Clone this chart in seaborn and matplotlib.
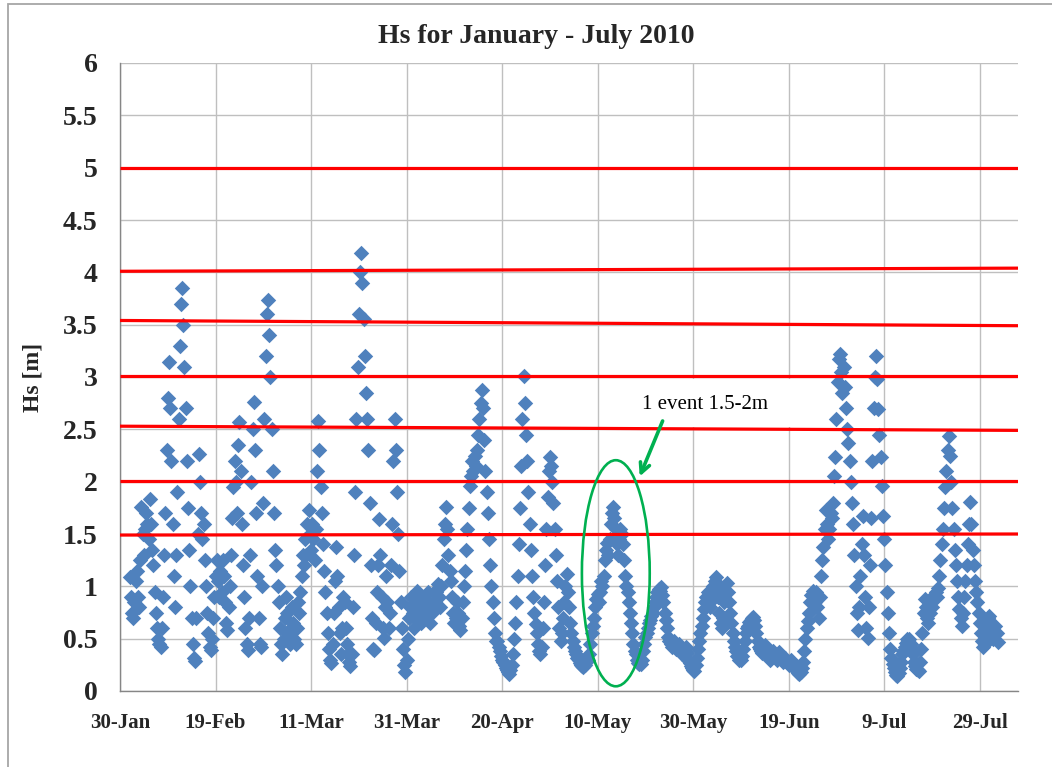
import numpy as np
import pandas as pd
import matplotlib
matplotlib.use("Agg")
import matplotlib.pyplot as plt
from matplotlib.patches import Ellipse, Rectangle
import seaborn as sns

# Significant wave height, 6-hourly readings, 1 Feb - 1 Aug 2010 (metres)
hs_feb = [
    1.09, 0.90, 0.75, 0.70,  0.85, 1.05, 1.15, 0.90,  0.80, 1.25, 1.76, 1.50,
    1.30, 1.55, 1.70, 1.60,  1.45, 1.83, 1.60, 1.35,  1.20, 0.95, 0.75, 0.60,
    0.50, 0.45, 0.42, 0.60,  0.90, 1.30, 1.70, 2.30,  2.80, 3.14, 2.70, 2.20,
    1.60, 1.10, 0.80, 1.30,  1.90, 2.60, 3.30, 3.70,  3.85, 3.50, 3.10, 2.70,
    2.20, 1.75, 1.35, 1.00,  0.70, 0.45, 0.32, 0.29,  0.70, 1.50, 2.26, 2.00,
    1.70, 1.45, 1.60, 1.25,  1.00, 0.75, 0.55, 0.42,  0.39, 0.50, 0.70, 0.90,
    1.10, 1.25, 1.05, 0.90,  1.15, 0.95, 1.25, 1.10,  0.85, 0.65, 0.58, 0.80,
    1.00, 1.30, 1.65, 1.95,  2.20, 2.00, 1.70, 2.35,  2.57, 2.10, 1.60, 1.20,
    0.90, 0.60, 0.45, 0.39,  0.70, 1.30, 2.00, 2.50,  2.76, 2.30, 1.70, 1.10,
    0.70, 0.45, 0.42, 1.00,
]
hs_mar = [
    1.80, 2.60, 3.20, 3.60,  3.74, 3.40, 3.00, 2.50,  2.10, 1.70, 1.35, 1.20,
    1.00, 0.85, 0.60, 0.45,  0.35, 0.50, 0.70, 0.90,  0.75, 0.55, 0.45, 0.60,
    0.80, 0.65, 0.50, 0.45,  0.60, 0.85, 0.75, 0.95,  1.10, 1.30, 1.20, 1.45,
    1.30, 1.60, 1.73, 1.50,  1.35, 1.60, 1.45, 1.25,  1.55, 2.10, 2.58, 2.30,
    1.95, 1.70, 1.40, 1.15,  0.95, 0.75, 0.55, 0.40,  0.30, 0.27, 0.45, 0.75,
    1.05, 1.38, 1.10, 0.80,  0.55, 0.35, 0.60, 0.90,  0.85, 0.60, 0.45, 0.35,
    0.28, 0.24, 0.35, 0.80,  1.30, 1.90, 2.60, 3.10,  3.60, 4.00, 4.18, 3.90,
    3.55, 3.20, 2.85, 2.60,  2.30, 1.80, 1.20, 0.70,  0.40, 0.39, 0.65, 0.95,
    1.20, 1.64, 1.30, 0.90,  0.60, 0.51, 0.80, 1.10,  0.85, 0.60, 0.75, 1.20,
    1.60, 2.20, 2.60, 2.30,  1.90, 1.50, 1.15, 0.85,  0.60, 0.40, 0.25, 0.18,
    0.30, 0.50, 0.70, 0.80,
]
hs_apr = [
    0.90, 0.75, 0.60, 0.70,  0.85, 0.96, 0.80, 0.70,  0.65, 0.80, 0.90, 0.75,
    0.70, 0.85, 0.95, 0.80,  0.65, 0.75, 0.85, 0.95,  0.85, 0.95, 1.02, 0.90,
    0.80, 1.00, 1.20, 1.45,  1.60, 1.76, 1.55, 1.30,  1.15, 1.05, 0.90, 0.75,
    0.65, 0.70, 0.85, 0.75,  0.62, 0.58, 0.70, 0.85,  1.00, 1.15, 1.35, 1.55,
    1.75, 1.96, 2.05, 2.20,  2.10, 2.25, 2.15, 2.30,  2.45, 2.60, 2.75, 2.88,
    2.70, 2.40, 2.10, 1.90,  1.70, 1.45, 1.20, 1.00,  0.85, 0.70, 0.55, 0.48,
    0.48, 0.42, 0.38, 0.33,  0.30, 0.28, 0.25, 0.22,  0.20, 0.18, 0.16, 0.20,
    0.25, 0.35, 0.50, 0.65,  0.85, 1.10, 1.40, 1.75,  2.15, 2.60, 3.01, 2.75,
    2.45, 2.20, 1.90, 1.60,  1.35, 1.10, 0.90, 0.75,  0.64, 0.55, 0.45, 0.38,
    0.35, 0.42, 0.60, 0.85,  1.20, 1.55, 1.85, 2.10,  2.24, 2.15, 2.00, 1.80,
]
hs_may = [
    1.55, 1.30, 1.05, 0.80,  0.60, 0.48, 0.55, 0.70,  0.85, 1.00, 1.12, 0.95,
    0.80, 0.65, 0.55, 0.48,  0.42, 0.38, 0.35, 0.32,  0.30, 0.27, 0.25, 0.24,
    0.23, 0.25, 0.28, 0.32,  0.30, 0.35, 0.45, 0.55,  0.62, 0.70, 0.80, 0.88,
    0.93, 0.85, 0.95, 1.05,  1.00, 1.10, 1.25, 1.35,  1.41, 1.30, 1.45, 1.60,
    1.70, 1.76, 1.65, 1.55,  1.40, 1.30, 1.45, 1.55,  1.50, 1.40, 1.25, 1.10,
    1.00, 0.95, 0.85, 0.75,  0.65, 0.55, 0.45, 0.38,  0.35, 0.30, 0.27, 0.26,
    0.26, 0.30, 0.38, 0.45,  0.52, 0.55, 0.60, 0.65,  0.68, 0.72, 0.75, 0.80,
    0.85, 0.90, 0.95, 0.97,  0.96, 0.99, 0.92, 0.85,  0.75, 0.68, 0.60, 0.52,
    0.48, 0.45, 0.42, 0.45,  0.48, 0.44, 0.40, 0.42,  0.45, 0.42, 0.38, 0.35,
    0.33, 0.38, 0.42, 0.36,  0.30, 0.27, 0.24, 0.22,  0.20, 0.19, 0.25, 0.32,
    0.40, 0.48, 0.55, 0.62,
]
hs_jun = [
    0.70, 0.78, 0.85, 0.90,  0.95, 0.88, 0.80, 0.86,  0.92, 1.00, 1.05, 1.09,
    1.00, 0.90, 0.75, 0.65,  0.60, 0.70, 0.85, 0.95,  1.03, 0.95, 0.85, 0.75,
    0.65, 0.55, 0.48, 0.42,  0.38, 0.33, 0.30, 0.32,  0.30, 0.33, 0.40, 0.48,
    0.55, 0.60, 0.62, 0.66,  0.68, 0.70, 0.71, 0.68,  0.62, 0.55, 0.48, 0.42,
    0.40, 0.38, 0.36, 0.40,  0.44, 0.40, 0.35, 0.33,  0.30, 0.32, 0.36, 0.38,
    0.35, 0.32, 0.30, 0.34,  0.37, 0.33, 0.30, 0.28,  0.30, 0.32, 0.29, 0.27,
    0.25, 0.27, 0.30, 0.28,  0.25, 0.22, 0.20, 0.19,  0.17, 0.16, 0.18, 0.22,
    0.28, 0.38, 0.50, 0.60,  0.67, 0.75, 0.85, 0.92,  0.96, 0.90, 0.85, 0.95,
    0.80, 0.70, 0.90, 1.10,  1.25, 1.38, 1.55, 1.73,  1.60, 1.45, 1.55, 1.70,
    1.65, 1.80, 2.05, 2.24,  2.60, 2.95, 3.17, 3.22,  3.05, 2.85, 3.10, 2.90,
]
hs_jul = [
    2.70, 2.50, 2.37, 2.20,  2.00, 1.80, 1.60, 1.30,  1.00, 0.75, 0.58, 0.80,
    1.10, 1.40, 1.67, 1.30,  0.90, 0.60, 0.51, 0.80,  1.20, 1.65, 2.20, 2.70,
    3.00, 3.20, 2.98, 2.69,  2.45, 2.24, 1.96, 1.67,  1.45, 1.20, 0.95, 0.75,
    0.55, 0.40, 0.32, 0.26,  0.22, 0.18, 0.15, 0.14,  0.17, 0.22, 0.28, 0.35,
    0.38, 0.42, 0.46, 0.50,  0.48, 0.50, 0.45, 0.40,  0.35, 0.28, 0.24, 0.21,
    0.20, 0.19, 0.28, 0.40,  0.55, 0.75, 0.88, 0.80,  0.70, 0.65, 0.75, 0.85,
    0.80, 0.88, 0.92, 0.95,  0.90, 0.98, 1.10, 1.25,  1.40, 1.55, 1.75, 1.95,
    2.10, 2.30, 2.44, 2.25,  2.00, 1.75, 1.55, 1.35,  1.20, 1.05, 0.90, 0.78,
    0.70, 0.62, 0.75, 0.90,  1.05, 1.20, 1.40, 1.60,  1.81, 1.60, 1.35, 1.20,
    1.05, 0.95, 0.85, 0.75,  0.65, 0.55, 0.48, 0.42,  0.45, 0.55, 0.62, 0.70,
    0.72, 0.65, 0.58, 0.50,
]
hs_aug = [0.55, 0.62, 0.55, 0.47]

# Axis ticks: days counted from 30 Jan, one label every 20 days
tick_days = [0, 20, 40, 60, 80, 100, 120, 140, 160, 180]
tick_labels = ["30-Jan", "19-Feb", "11-Mar", "31-Mar", "20-Apr",
               "10-May", "30-May", "19-Jun", "9-Jul", "29-Jul"]
y_ticks = [0, 0.5, 1, 1.5, 2, 2.5, 3, 3.5, 4, 4.5, 5, 5.5, 6]
y_tick_labels = ["0", "0.5", "1", "1.5", "2", "2.5", "3", "3.5",
                 "4", "4.5", "5", "5.5", "6"]

# Threshold lines (level at the left and at the right end of the plot)
limit_left = [5.0, 4.01, 3.54, 3.01, 2.53, 2.01, 1.49]
limit_right = [5.0, 4.04, 3.49, 3.01, 2.49, 2.01, 1.50]

hs = hs_feb + hs_mar + hs_apr + hs_may + hs_jun + hs_jul + hs_aug
first_day = 2          # 1 Feb
step = 0.25            # 6-hourly
df = pd.DataFrame({"day": first_day + step * np.arange(len(hs)), "hs": hs})

sns.set_style("white")
plt.rcParams["font.family"] = ["Liberation Serif", "DejaVu Serif"]

W, H = 1052, 767
fig = plt.figure(figsize=(W / 100, H / 100), dpi=100)
ax = fig.add_axes([120 / W, 1 - 691 / H, (1018 - 120) / W, (691 - 63) / H])

x_max = 188
ax.set_xlim(0, x_max)
ax.set_ylim(0, 6)

grid_c = "#BFBFBF"
ax.set_xticks(tick_days)
ax.set_yticks(y_ticks)
ax.grid(True, color=grid_c, lw=1.0, zorder=0)
ax.set_axisbelow(True)

sns.scatterplot(data=df, x="day", y="hs", marker="D", s=62, color="#4F81BD",
                linewidth=0, ax=ax, zorder=2, legend=False)

for yl, yr in zip(limit_left, limit_right):
    ax.plot([0, x_max], [yl, yr], color="#FF0000", lw=2.3, zorder=3,
            solid_capstyle="butt")

# Annotation: white text box, ellipse and arrow
ax.add_patch(Rectangle((106.3, 2.52), 36.0, 0.46, facecolor="white",
                       edgecolor="none", zorder=1.5))
ax.text(109.3, 2.69, "1 event 1.5-2m", fontsize=15, ha="left",
        va="baseline", color="black", zorder=4)
ax.add_patch(Ellipse((103.8, 1.125), 14.2, 2.16, fill=False,
                     edgecolor="#00B050", lw=1.9, zorder=4))
ax.annotate("", xy=(108.8, 2.05), xytext=(113.6, 2.58),
            arrowprops=dict(arrowstyle="->,head_length=0.7,head_width=0.35",
                            color="#00B050", lw=2.6, shrinkA=0, shrinkB=0),
            zorder=4)

ax.set_xticklabels(tick_labels, fontsize=15, fontweight="bold")
ax.set_yticklabels(y_tick_labels, fontsize=20, fontweight="bold")
ax.tick_params(axis="both", length=0)
ax.tick_params(axis="x", pad=16)
ax.tick_params(axis="y", pad=16)
ax.set_xlabel("")
ax.set_ylabel("Hs [m]", fontsize=17, fontweight="bold", labelpad=0)
ax.yaxis.set_label_coords(-(120 - 43) / (1018 - 120), 0.5)

for side in ["top", "right"]:
    ax.spines[side].set_visible(False)
for side in ["left", "bottom"]:
    ax.spines[side].set_color("#868686")
    ax.spines[side].set_linewidth(1.0)

fig.text(536 / W, 1 - 43 / H, "Hs for January - July 2010", fontsize=20,
         fontweight="bold", ha="center", va="baseline")

# Chart area frame
fig.patches.append(Rectangle((8 / W, -0.1), 1.2, 1.1 - 4 / H, fill=False,
                             edgecolor="#A6A6A6", lw=1.3,
                             transform=fig.transFigure, figure=fig))

fig.savefig("out.png", dpi=100)
